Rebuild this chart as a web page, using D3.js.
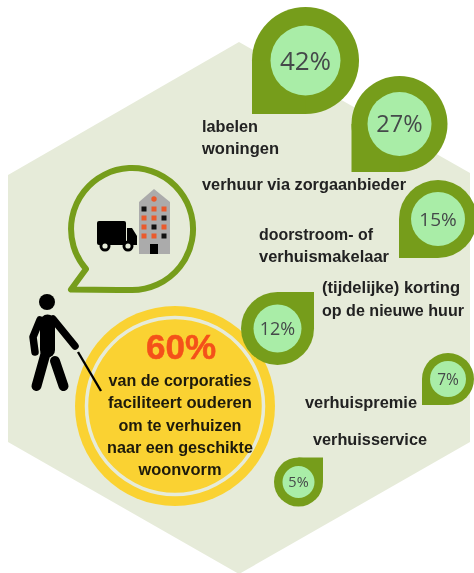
<!DOCTYPE html>
<html lang="nl">
<head>
<meta charset="utf-8">
<script src="https://cdn.jsdelivr.net/npm/d3@7"></script>
<style>
html,body{margin:0;padding:0;background:#fff;overflow:hidden}
svg{display:block;filter:blur(0.55px)}
text{font-family:"Open Sans","Liberation Sans",sans-serif}
text.bold{font-family:"Liberation Sans",sans-serif;font-weight:700}
</style>
</head>
<body>
<svg id="c" width="474" height="573" viewBox="0 0 474 573"></svg>
<script>
// ---- data ----
const categories = ["labelen woningen","verhuur via zorgaanbieder","doorstroom- of verhuismakelaar","(tijdelijke) korting op de nieuwe huur","verhuispremie","verhuisservice"];
const values = [42,27,15,12,7,5];
const labelLines = [["labelen","woningen"],["verhuur via zorgaanbieder"],["doorstroom- of","verhuismakelaar"],["(tijdelijke) korting","op de nieuwe huur"],["verhuispremie"],["verhuisservice"]];
const headlineValue = "60%";
const headlineLines = ["van de corporaties","faciliteert ouderen","om te verhuizen","naar een geschikte","woonvorm"];

// ---- layout scales ----
const pinX = d3.scaleOrdinal().domain(categories).range([305.5,399.5,438,277.5,448,298.5]);
const pinY = d3.scaleOrdinal().domain(categories).range([60.5,124,219,328.5,379,482]);
const pinR = d3.scaleLinear().domain([5,7,12,15,27,42]).range([24.5,26,36.5,39,48,53.5]);
const holeR = d3.scaleLinear().domain([5,7,12,15,27,42]).range([16,18,24,27,32,35]);
const pctSize = d3.scaleLinear().domain([5,7,12,15,27,42]).range([14.5,15.5,18,19,23.5,26]);
const tipDir = d3.scaleOrdinal().domain(categories).range(["bl","bl","bl","tr","bl","tr"]);
const labelX = d3.scaleOrdinal().domain(categories).range([202,202,259,322,305,313]);
const labelY = d3.scaleOrdinal().domain(categories).range([132,190,240,293,408,445]);
const labelLead = [22,22,22,23,22,22];
const lineWidths = [[56,77],[204],[114,130],[138,142],[112],[114]];

const svg = d3.select("#c");
const C = {hex:"#e6ebd9",green:"#769d1b",hole:"#a9eda7",yellow:"#fad232",orange:"#f4511a",ink:"#222222",pct:"#45494a"};

// hexagon backdrop
const hexPts = [[239,42],[470,173],[470,442],[239,574],[8,442],[8,175]];
svg.append("path").attr("d", d3.line()(hexPts)+"Z").attr("fill",C.hex);

// central circle
const cx=175, cy=406;
svg.append("circle").attr("cx",cx).attr("cy",cy).attr("r",100).attr("fill",C.yellow);
svg.append("circle").attr("cx",cx).attr("cy",cy).attr("r",88.5).attr("fill","none").attr("stroke",C.hex).attr("stroke-width",3.5);
svg.append("text").attr("class","bold").attr("x",181).attr("y",359).attr("text-anchor","middle")
  .attr("font-size",35).attr("fill",C.orange).attr("stroke",C.orange).attr("stroke-width",0.5).text(headlineValue);
const headY = d3.scalePoint().domain(headlineLines).range([386,475]);
const headW = d3.scaleOrdinal().domain(headlineLines).range([143,144,123,146,83]);
svg.append("g").selectAll("text").data(headlineLines).join("text").attr("class","bold")
  .attr("x",180).attr("y",d=>headY(d)).attr("text-anchor","middle").attr("font-size",16.5)
  .attr("fill","#1d1a0c").attr("textLength",d=>headW(d)).attr("lengthAdjust","spacingAndGlyphs").text(d=>d);

// pins
function pinPath(x,y,r,dir){
  const p=d3.path();
  if(dir==="bl"){ p.moveTo(x-r,y); p.lineTo(x-r,y+r); p.lineTo(x,y+r); p.lineTo(x,y); }
  else { p.moveTo(x+r,y); p.lineTo(x+r,y-r); p.lineTo(x,y-r); p.lineTo(x,y); }
  p.closePath();
  return p.toString();
}
const pins = categories.map((c,i)=>({c,v:values[i],lines:labelLines[i],i}));
const pg = svg.append("g").selectAll("g").data(pins).join("g");
pg.append("circle").attr("cx",d=>pinX(d.c)).attr("cy",d=>pinY(d.c)).attr("r",d=>pinR(d.v)).attr("fill",C.green);
pg.append("path").attr("fill",C.green).attr("d",d=>pinPath(pinX(d.c),pinY(d.c),pinR(d.v),tipDir(d.c)));
pg.append("circle").attr("cx",d=>pinX(d.c)).attr("cy",d=>pinY(d.c)).attr("r",d=>holeR(d.v)).attr("fill",C.hole);
pg.append("text").attr("x",d=>pinX(d.c)).attr("y",d=>pinY(d.c)).attr("dy","0.36em").attr("text-anchor","middle")
  .attr("font-size",d=>pctSize(d.v)).attr("fill",C.pct).text(d=>d.v+"%");

// labels
const lg = svg.append("g").selectAll("g").data(pins).join("g");
lg.selectAll("text").data(d=>d.lines.map((t,j)=>({t,j,c:d.c,i:d.i}))).join("text").attr("class","bold")
  .attr("x",d=>labelX(d.c)).attr("y",d=>labelY(d.c)+d.j*labelLead[d.i])
  .attr("font-size",16.5).attr("fill",C.ink)
  .attr("textLength",d=>lineWidths[d.i][d.j]).attr("lengthAdjust","spacingAndGlyphs").text(d=>d.t);

// speech bubble
svg.append("path").attr("d","M86,269 L71,289.5 L118,290 Q125,290 132,290 A61,61 0 1 0 86,269Z")
  .attr("fill","none").attr("stroke",C.green).attr("stroke-width",6).attr("stroke-linejoin","round");

// building
const b = svg.append("g");
b.append("path").attr("d","M139,202L154,189L170,202V254H139Z").attr("fill","#ababab");
const winX = d3.scalePoint().domain([0,1,2]).range([144,164]);
const winY = d3.scalePoint().domain([0,1,2,3]).range([209,236]);
const winGrid = [[0,1,1],[1,1,0],[1,0,1],[1,1,0]];
winGrid.forEach((row,r)=>row.forEach((o,c)=>{
  b.append("rect").attr("x",winX(c)-2.5).attr("y",winY(r)-2.5).attr("width",5).attr("height",5)
   .attr("fill",o?"#ea5a2c":"#111");
}));
b.append("circle").attr("cx",154).attr("cy",199).attr("r",2.7).attr("fill","#ea5a2c");
b.append("rect").attr("x",150).attr("y",244).attr("width",8).attr("height",10).attr("fill","#000");

// truck
const t = svg.append("g");
t.append("rect").attr("x",97).attr("y",221).attr("width",29).attr("height",24).attr("rx",2).attr("fill","#000");
t.append("path").attr("d","M127,228H132L137,236V245H127Z").attr("fill","#000");
[105,128].forEach(x=>{
  t.append("circle").attr("cx",x).attr("cy",246).attr("r",5.5).attr("fill","#000");
  t.append("circle").attr("cx",x).attr("cy",246).attr("r",2.6).attr("fill",C.hex);
});

// person with cane
const m = svg.append("g").attr("fill","none").attr("stroke","#000").attr("stroke-linecap","round").attr("stroke-linejoin","round");
svg.append("circle").attr("cx",47).attr("cy",302).attr("r",8).attr("fill","#000");
m.append("path").attr("d","M47.5,322V350").attr("stroke-width",15);
m.append("path").attr("d","M46,352L36.5,386").attr("stroke-width",10);
m.append("path").attr("d","M55,361L63.5,386").attr("stroke-width",10);
m.append("path").attr("d","M40,320L33,337L35,352").attr("stroke-width",7.5);
m.append("path").attr("d","M53,319L75,346").attr("stroke-width",7.5);
m.append("path").attr("d","M78,352L101,391").attr("stroke-width",2.4).attr("stroke-linecap","butt");
</script>
</body>
</html>
